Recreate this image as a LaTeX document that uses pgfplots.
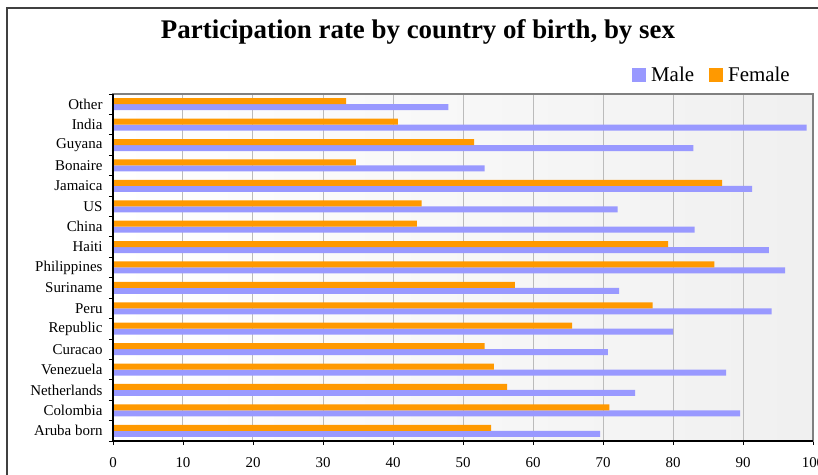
\documentclass[border=0pt]{standalone}
\usepackage{pgfplots}
\pgfplotsset{compat=1.18}
\usepackage{fontspec}
\setmainfont{Liberation Serif}
\definecolor{malec}{HTML}{9999FF}
\definecolor{femc}{HTML}{FF9900}
\definecolor{gridc}{HTML}{BBBBBB}
\begin{document}
\begin{tikzpicture}
\useasboundingbox (-113bp,-34bp) rectangle (705bp,441bp);
\clip (-113bp,-34bp) rectangle (705bp,441bp);
% outer chart frame
\draw[line width=1.5bp, black!75] (-106bp,-80bp) rectangle (780bp,433bp);
\begin{axis}[
  at={(0,0)}, anchor=south west,
  scale only axis, width=700bp, height=347bp,
  xbar=0pt, bar width=6bp,
  xmin=0, xmax=100, ymin=-0.5, ymax=16.5,
  xtick={0,10,...,100},
  ytick={-0.5,0.5,...,16.5},
  y tick label as interval,
  yticklabels={Aruba born,Colombia,Netherlands,Venezuela,Curacao,Republic,Peru,Suriname,Philippines,Haiti,China,US,Jamaica,Bonaire,Guyana,India,Other},
  tick align=outside, xtick pos=bottom, ytick pos=left,
  major tick length=4bp,
  tick style={black, line width=0.8bp},
  xmajorgrids, grid style={gridc, line width=1bp},
  axis line style={black!50, line width=1.5bp},
  axis background/.style={left color=white, right color=black!6},
  ticklabel style={font=\fontsize{15}{17}\selectfont},
  xticklabel style={yshift=-9bp},
  yticklabel style={xshift=-3bp},
  /pgf/number format/assume math mode=true,
  legend columns=2,
  legend style={draw=none, fill=none, inner sep=0pt, at={(0.967,1.056)}, anchor=east,
    nodes={inner sep=0pt},
    font=\fontsize{21}{24}\selectfont,
    /tikz/every odd column/.append style={column sep=5bp},
    /tikz/every even column/.append style={column sep=15bp}},
  sqleg/.style={legend image code/.code={\fill[##1] (0bp,-7bp) rectangle (14bp,7bp);}},
  clip=false,
]
\addplot[fill=malec, draw=none, sqleg] coordinates {
  (69.6,0) (89.6,1) (74.6,2) (87.6,3) (70.7,4) (80.0,5) (94.1,6) (72.3,7) (96.0,8)
  (93.7,9) (83.1,10) (72.1,11) (91.3,12) (53.1,13) (82.9,14) (99.1,15) (47.9,16)};
\addplot[fill=femc, draw=none, sqleg] coordinates {
  (54.0,0) (70.9,1) (56.3,2) (54.4,3) (53.1,4) (65.6,5) (77.1,6) (57.4,7) (85.9,8)
  (79.3,9) (43.4,10) (44.1,11) (87.0,12) (34.7,13) (51.6,14) (40.7,15) (33.3,16)};
\legend{Male,Female}
\draw[black, line width=1.5bp] (rel axis cs:0,1) -- (rel axis cs:0,0) -- (rel axis cs:1,0);
\end{axis}
\node[font=\bfseries\fontsize{27}{31}\selectfont] at (305bp,409bp) {Participation rate by country of birth, by sex};
\end{tikzpicture}
\end{document}
